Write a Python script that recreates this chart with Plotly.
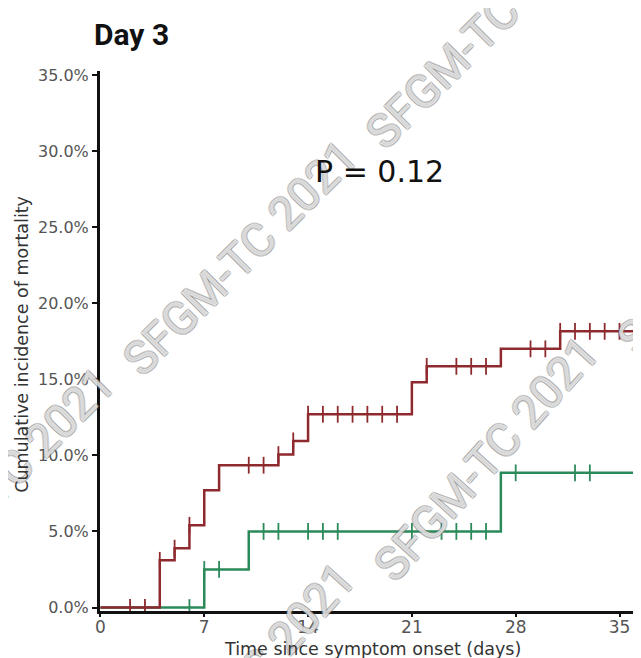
import plotly.graph_objects as go

# ---------------- data ----------------
red_times = [0, 4, 5, 6, 7, 8, 12, 13, 14, 21, 22, 27, 31, 37]
red_vals = [0, 3.1, 3.9, 5.4, 7.7, 9.35, 10.05, 10.95, 12.7, 14.8, 15.85, 17.0, 18.15, 18.15]
red_censor = [2, 3, 4, 5, 6, 10, 11, 12, 13, 14, 15, 16, 17, 18, 19, 20,
              22, 24, 25, 26, 29, 30, 31, 32, 33, 34, 35]

green_times = [0, 7, 10, 27, 37]
green_vals = [0, 2.5, 5.0, 8.85, 8.85]
green_censor = [6, 7, 8, 11, 12, 14, 15, 16, 21, 23, 24, 25, 26, 28, 32, 33]

x_ticks = [0, 7, 14, 21, 28, 35]
y_ticks = [0, 5, 10, 15, 20, 25, 30, 35]

RED = "#8e2a2e"
GREEN = "#2b8a5a"


def step_value(times, vals, t):
    v = vals[0]
    for tt, vv in zip(times, vals):
        if tt <= t:
            v = vv
    return v


fig = go.Figure()
for times, vals, cens, col in [(green_times, green_vals, green_censor, GREEN),
                               (red_times, red_vals, red_censor, RED)]:
    fig.add_trace(go.Scatter(x=times, y=vals, mode="lines", line=dict(color=col, width=2.5, shape="hv"),
                             showlegend=False, hoverinfo="skip"))
    fig.add_trace(go.Scatter(x=cens, y=[step_value(times, vals, c) for c in cens], mode="markers",
                             marker=dict(symbol="line-ns-open", size=12, color=col, line=dict(color=col, width=1.8)),
                             showlegend=False, hoverinfo="skip"))

# page body has an 8px margin; the figure is laid out in page (viewport) pixels minus 8
OFF = 8
W, H = 641 - OFF, 658 - OFF
L, R, T, B = 100 - OFF, 0, 71 - OFF, H - (611.5 - OFF)


def px(x):
    return (x - OFF - L) / (W - L - R)


def py(y):
    return (H - B - (y - OFF)) / (H - T - B)


ann = []
# diagonal watermark tiles (hollow grey letters)
sh = "rgba(110,110,110,0.55)"
wm_font = dict(family="Roboto, sans-serif", size=46, color="rgba(255,255,255,0.7)",
               shadow=f"1px 1px 0 {sh}, -1px -1px 0 {sh}, 1px -1px 0 {sh}, -1px 1px 0 {sh}")
for cx, cy, ang in [(240, 258, -45), (483, 31, -45), (-3, 485, -45), (486, 459, -48), (729, 232, -48), (243, 686, -48)]:
    ann.append(dict(x=px(cx), y=py(cy), xref="paper", yref="paper", text="SFGM-TC 2021", showarrow=False,
                    textangle=ang, font=wm_font, xanchor="center", yanchor="middle"))

ann.append(dict(x=px(92), y=py(34), xref="paper", yref="paper", text="<b>Day 3</b>", showarrow=False,
                xanchor="left", yanchor="middle", font=dict(family="Roboto, sans-serif", size=30, color="#111")))
ann.append(dict(x=px(379), y=py(172), xref="paper", yref="paper", text="P = 0.12", showarrow=False,
                xanchor="center", yanchor="middle", font=dict(family="DejaVu Sans, sans-serif", size=30, color="#111")))
ann.append(dict(x=px(22), y=py(345), xref="paper", yref="paper", text="Cumulative incidence of mortality",
                showarrow=False, textangle=-90, xanchor="center", yanchor="middle",
                font=dict(family="DejaVu Sans, sans-serif", size=17.5, color="#333")))
ann.append(dict(x=px(372), y=py(650), xref="paper", yref="paper", text="Time since symptom onset (days)",
                showarrow=False, xanchor="center", yanchor="middle",
                font=dict(family="DejaVu Sans, sans-serif", size=17.5, color="#333")))

fig.update_layout(
    width=W, height=H, margin=dict(l=L, r=R, t=T, b=B),
    paper_bgcolor="white", plot_bgcolor="white",
    annotations=ann,
    xaxis=dict(range=[-0.03, 36.45], tickvals=x_ticks, ticktext=[str(v) for v in x_ticks],
               showline=True, linecolor="#111", linewidth=3, showgrid=False, zeroline=False,
               ticks="outside", ticklen=3, tickwidth=1.5, tickcolor="#111", automargin=False,
               ticklabelstandoff=-4,
               tickfont=dict(family="DejaVu Sans, sans-serif", size=17, color="#555")),
    yaxis=dict(range=[-0.23, 35.26], tickvals=y_ticks, ticktext=[f"{v:.1f}%" for v in y_ticks],
               showline=True, linecolor="#111", linewidth=3, showgrid=False, zeroline=False,
               ticks="outside", ticklen=5, tickwidth=1.5, tickcolor="#111", automargin=False,
               tickfont=dict(family="DejaVu Sans, sans-serif", size=16, color="#555")),
)

fig.write_html("out.html")
